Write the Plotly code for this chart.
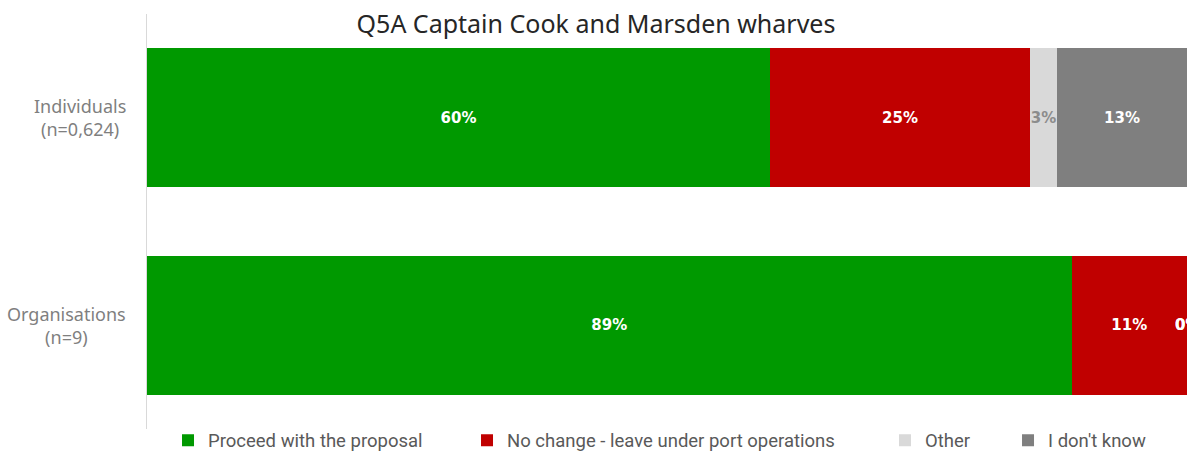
import plotly.graph_objects as go

title = "Q5A Captain Cook and Marsden wharves"
groups = ["Individuals<br>(n=0,624)", "Organisations<br>(n=9)"]
series = ["Proceed with the proposal", "No change - leave under port operations", "Other", "I don't know"]
colors = ["#009900", "#C00000", "#D9D9D9", "#7F7F7F"]
label_colors = ["#FFFFFF", "#FFFFFF", "#8C8C8C", "#FFFFFF"]
values = {
    "Proceed with the proposal": [59.9, 88.9],
    "No change - leave under port operations": [25.0, 11.1],
    "Other": [2.6, 0.0],
    "I don't know": [12.5, 0.0],
}
labels = {
    "Proceed with the proposal": ["60%", "89%"],
    "No change - leave under port operations": ["25%", "11%"],
    "Other": ["3%", "0%"],
    "I don't know": ["13%", "0%"],
}
# legend anchor positions (paper fraction) for each series entry
legend_x = [0.0202, 0.3077, 0.7096, 0.8279]

LABEL_FONT = dict(family="DejaVu Sans", size=15, weight="bold")

fig = go.Figure()
cum = [0.0] * len(groups)
annotations = []
legends = {}
for k, (name, col, lcol) in enumerate(zip(series, colors, label_colors)):
    vals = values[name]
    txt = [t if v > 0 else "" for t, v in zip(labels[name], vals)]
    lname = "legend" if k == 0 else f"legend{k + 1}"
    fig.add_trace(go.Bar(
        y=groups, x=vals, name=name, orientation="h",
        marker=dict(color=col, line=dict(width=0)),
        text=txt, textposition="inside", insidetextanchor="middle",
        textangle=0, constraintext="none",
        textfont=dict(color=lcol, **LABEL_FONT),
        hoverinfo="skip", legend=lname,
    ))
    legends[lname] = dict(
        orientation="h", x=legend_x[k], xanchor="left", y=-0.028, yanchor="middle",
        font=dict(family="Roboto", size=18.5, color="#595959"),
        itemwidth=30, bgcolor="rgba(0,0,0,0)", borderwidth=0,
    )
    for i, (v, t) in enumerate(zip(vals, labels[name])):
        if v == 0:
            annotations.append(dict(
                x=cum[i] + v / 2, y=groups[i], xref="x", yref="y", text=t,
                showarrow=False, xanchor="center",
                font=dict(color="#FFFFFF", **LABEL_FONT),
            ))
        cum[i] += v

for g in groups:
    annotations.append(dict(
        x=-0.0183, y=g, xref="paper", yref="y", text=g, showarrow=False,
        xanchor="right", align="center",
        font=dict(family="Noto Sans", size=18, color="#7F7F7F"),
    ))

fig.update_layout(
    barmode="stack", bargap=0.33,
    width=1192, height=452,
    margin=dict(l=147, r=5, t=14, b=23, autoexpand=False),
    paper_bgcolor="white", plot_bgcolor="white",
    title=dict(text=title, x=0.5, xref="container", xanchor="center",
               y=1 - 24 / 452, yref="container", yanchor="middle",
               font=dict(family="Noto Sans", size=25, color="#262626")),
    xaxis=dict(range=[0, 100], visible=False, fixedrange=True),
    yaxis=dict(autorange="reversed", showticklabels=False, showline=True,
               linecolor="#D9D9D9", linewidth=1, showgrid=False, ticks="",
               zeroline=False, fixedrange=True),
    annotations=annotations,
    showlegend=True,
    **legends,
)

fig.write_html("out.html", config={"displayModeBar": False},
               post_script="document.body.style.margin='0';document.body.style.overflow='hidden';")
